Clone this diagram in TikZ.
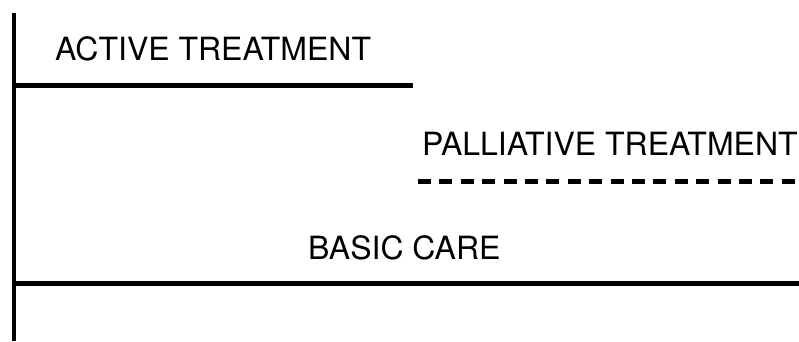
\documentclass[tikz,border=0pt]{standalone}
\usepackage{fontspec}
\setmainfont{TeX Gyre Heros}
\begin{document}
\begin{tikzpicture}[x=1pt,y=-1pt,
  lbl/.style={anchor=base west,inner sep=0pt,font=\fontsize{32}{38}\selectfont},
  axisline/.style={line width=4pt},
  solidline/.style={line width=5pt},
  dashline/.style={line width=5pt,dash pattern=on 13pt off 8.4pt}]
\useasboundingbox (0,0) rectangle (799,341);
\coordinate (vtop) at (13.5,13);
\coordinate (vbot) at (13.5,341);
\coordinate (a0) at (12,85);
\coordinate (a1) at (413,85);
\coordinate (p0) at (418,181.5);
\coordinate (p1) at (799,181.5);
\coordinate (b0) at (12,283.5);
\coordinate (b1) at (799,283.5);
\draw[axisline] (vtop) -- (vbot);
\draw[solidline] (a0) -- (a1);
\draw[dashline] (p0) -- (p1);
\draw[solidline] (b0) -- (b1);
\node[lbl] (active) at (55,60) {ACTIVE TREATMENT};
\node[lbl] (pall) at (422,155.5) {PALLIATIVE TREATMENT};
\node[lbl] (basic) at (308,259) {BASIC CARE};
\end{tikzpicture}
\end{document}
